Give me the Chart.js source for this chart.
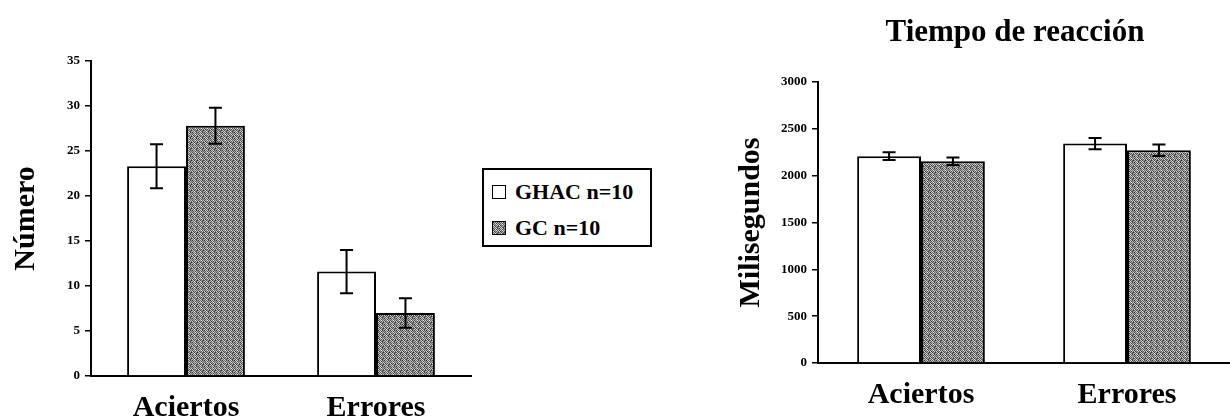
<!DOCTYPE html>
<html>
<head>
<meta charset="utf-8">
<script src="https://cdn.jsdelivr.net/npm/chart.js@4/dist/chart.umd.min.js"></script>
<style>
  body{margin:0;background:#fff;width:1230px;height:417px;overflow:hidden;position:relative;font-family:'Liberation Serif','Times New Roman',serif;}
  canvas{position:absolute;top:0;}
  #grafNumero{left:0;}
  #grafTempo{left:720px;}
  #titoloTempo{position:absolute;left:765px;width:500px;top:13px;text-align:center;font-weight:bold;font-size:31px;}
  #legenda{position:absolute;left:482px;top:168px;width:166px;height:75px;border:2px solid #000;font-weight:bold;font-size:22px;}
  .voce{position:absolute;left:8px;height:24px;line-height:24px;}
  .voce span{display:inline-block;width:12px;height:12px;border:1px solid #000;margin-right:9px;vertical-align:0px;}
</style>
</head>
<body>
<canvas id="grafNumero" width="480" height="417"></canvas>
<canvas id="grafTempo" width="510" height="417"></canvas>
<div id="titoloTempo">Tiempo de reacción</div>
<div id="legenda">
  <div class="voce" style="top:10px"><span id="swGhac" style="background:#fff"></span>GHAC n=10</div>
  <div class="voce" style="top:46px"><span id="swGc"></span>GC n=10</div>
</div>
<script>
// dati
var categorie = ["Aciertos", "Errores"];
var serie = ["GHAC n=10", "GC n=10"];

// grafico di sinistra (Número)
var numGhac = [23.3, 11.6];
var numGc = [27.8, 7.0];
var errNumGhac = [2.45, 2.4];
var errNumGc = [2.0, 1.65];

// grafico di destra (Tiempo de reacción, ms)
var tempoGhac = [2208, 2343];
var tempoGc = [2155, 2272];
var errTempoGhac = [42, 60];
var errTempoGc = [40, 62];

var fontSerif = "'Liberation Serif','Times New Roman',serif";

//trama grigia a puntini per le barre GC
function creaTrama(){
    var c = document.createElement('canvas');
    c.width = 6; c.height = 6;
    var g = c.getContext('2d');
    var livelli = [
        "30","c0","68","d8","48","90",
        "a0","58","d0","40","a8","70",
        "48","b0","80","e8","60","b8",
        "e0","38","98","50","c8","58",
        "70","c8","48","a8","78","30",
        "b8","60","e0","68","40","a0"];
    for (var i = 0; i < 36; i++) {
        g.fillStyle = "#" + livelli[i] + livelli[i] + livelli[i];
        g.fillRect(i % 6, Math.floor(i / 6), 1, 1);
    }
    return c;
}
var trama = creaTrama();
var grigio = document.getElementById('grafNumero').getContext('2d').createPattern(trama, 'repeat');
document.getElementById('swGc').style.background = "url(" + trama.toDataURL() + ")";

//plugin per disegnare le barre di errore
var barreErrore = {
    id: 'barreErrore',
    afterDatasetsDraw: function(chart){
        var ctx = chart.ctx, y = chart.scales.y;
        chart.data.datasets.forEach(function(ds, i){
            chart.getDatasetMeta(i).data.forEach(function(bar, j){
                var alto = y.getPixelForValue(ds.data[j] + ds.errori[j]);
                var basso = y.getPixelForValue(ds.data[j] - ds.errori[j]);
                ctx.save();
                ctx.strokeStyle = '#000';
                ctx.lineWidth = 2;
                ctx.beginPath();
                ctx.moveTo(bar.x, alto); ctx.lineTo(bar.x, basso);
                ctx.moveTo(bar.x - 6.5, alto); ctx.lineTo(bar.x + 6.5, alto);
                ctx.moveTo(bar.x - 6.5, basso); ctx.lineTo(bar.x + 6.5, basso);
                ctx.stroke();
                ctx.restore();
            });
        });
    }
};

function opzioni(max, passo, titolo, larghY, altX, padTitolo, padTick){
    return {
        responsive: false,
        animation: false,
        events: [],
        layout: {padding: {top: 0, right: 0, left: 0, bottom: 0}},
        plugins: {legend: {display: false}, tooltip: {enabled: false}},
        scales: {
            x: {
                grid: {display: false},
                border: {color: '#000', width: 2},
                ticks: {color: '#000', padding: padTick, font: {family: fontSerif, size: 30, weight: 'bold'}},
                afterFit: function(s){ s.height = altX; }
            },
            y: {
                min: 0, max: max,
                ticks: {stepSize: passo, color: '#000', padding: 5,
                        font: {family: fontSerif, size: 13, weight: 'bold'},
                        callback: function(v){ return String(v); }},
                grid: {drawOnChartArea: false, tickLength: 6, color: '#000', lineWidth: 1.5},
                border: {color: '#000', width: 2},
                title: {display: true, text: titolo, color: '#000', padding: {top: padTitolo, bottom: 0},
                        font: {family: fontSerif, size: 30, weight: 'bold'}},
                afterFit: function(s){ s.width = larghY; }
            }
        }
    };
}

function datasets(a, b, ea, eb){
    return [{
        label: serie[0], data: a, errori: ea,
        backgroundColor: '#fff', borderColor: '#000', borderWidth: 2,
        categoryPercentage: 0.62, barPercentage: 1
    }, {
        label: serie[1], data: b, errori: eb,
        backgroundColor: grigio, borderColor: '#000', borderWidth: 2,
        categoryPercentage: 0.62, barPercentage: 1
    }];
}

var opzNum = opzioni(35, 5, 'Número', 91, 41, 8, 6);
opzNum.layout.padding = {top: 61, right: 9, left: 0, bottom: 0};
new Chart(document.getElementById('grafNumero').getContext('2d'), {
    type: 'bar',
    data: {labels: categorie, datasets: datasets(numGhac, numGc, errNumGhac, errNumGc)},
    options: opzNum,
    plugins: [barreErrore]
});

var opzTempo = opzioni(3000, 500, 'Milisegundos', 98, 54, 13, 6);
opzTempo.layout.padding = {top: 82, right: 0, left: 0, bottom: 0};
new Chart(document.getElementById('grafTempo').getContext('2d'), {
    type: 'bar',
    data: {labels: categorie, datasets: datasets(tempoGhac, tempoGc, errTempoGhac, errTempoGc)},
    options: opzTempo,
    plugins: [barreErrore]
});
</script>
</body>
</html>
